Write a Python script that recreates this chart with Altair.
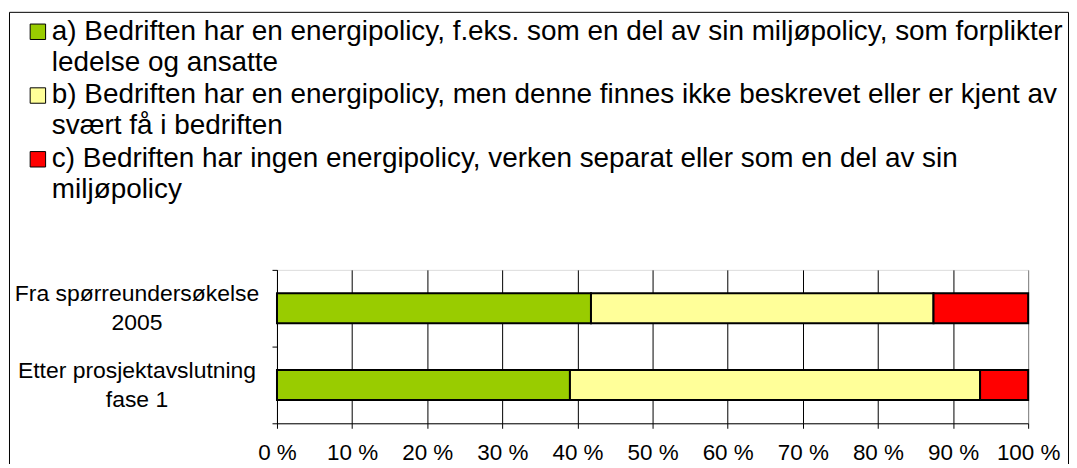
import altair as alt
import pandas as pd

categories = ["Fra spørreundersøkelse\n2005", "Etter prosjektavslutning\nfase 1"]
series_names = [
    "a) Bedriften har en energipolicy, f.eks. som en del av sin miljøpolicy, som forplikter\nledelse og ansatte",
    "b) Bedriften har en energipolicy, men denne finnes ikke beskrevet eller er kjent av\nsvært få i bedriften",
    "c) Bedriften har ingen energipolicy, verken separat eller som en del av sin\nmiljøpolicy",
]
series_a = [41.8, 39.0]
series_b = [45.6, 54.6]
series_c = [12.6, 6.4]
colors = ["#99CC00", "#FFFF99", "#FF0000"]
tick_values = [0, 10, 20, 30, 40, 50, 60, 70, 80, 90, 100]
tick_labels = ["0 %", "10 %", "20 %", "30 %", "40 %", "50 %", "60 %", "70 %", "80 %", "90 %", "100 %"]

FONT = "Liberation Sans"

rows = []
for j, (name, vals) in enumerate(zip(series_names, [series_a, series_b, series_c])):
    for i, cat in enumerate(categories):
        rows.append({"cat": cat, "series": name, "order": j, "value": vals[i]})
df = pd.DataFrame(rows)

color_scale = alt.Scale(domain=series_names, range=colors)
label_expr = "[" + ",".join("'%s'" % t for t in tick_labels) + "][round(datum.value/10)]"

bars = alt.Chart(df).mark_bar(height=30, stroke="black", strokeWidth=2).encode(
    x=alt.X("value:Q", stack="zero",
            scale=alt.Scale(domain=[0, 100], nice=False),
            axis=alt.Axis(values=tick_values, labelExpr=label_expr, title=None,
                          grid=True,
                          gridColor={"condition": {"test": "datum.value === 100", "value": "#808080"}, "value": "#000000"},
                          gridWidth=1, tickColor="black", tickSize=5, domainColor="black",
                          labelFont=FONT, labelFontSize=22.5, labelColor="black",
                          labelBaseline="middle", labelPadding=24, labelFlush=False,
                          labelOverlap=False)),
    y=alt.Y("cat:N", sort=categories,
            scale=alt.Scale(paddingInner=0, paddingOuter=0),
            axis=alt.Axis(title=None, labelExpr="split(datum.label, '\\n')",
                          labelAlign="center", labelPadding=136, labelFont=FONT,
                          labelFontSize=23, labelLineHeight=29, labelBaseline="middle",
                          labelOffset=-14.5,
                          labelColor="black", labelLimit=500,
                          tickBand="extent", tickSize=5, tickColor="black",
                          domainColor="black", grid=False)),
    color=alt.Color("series:N", scale=color_scale, legend=None),
    order=alt.Order("order:Q"),
)

layers = [bars]

# legend (symbols + wrapped texts)
for j, name in enumerate(series_names):
    y0 = -239 + 64 * j
    sq = alt.Chart(pd.DataFrame({"series": [name]})).mark_square(
        size=240, stroke="black", strokeWidth=1, opacity=1
    ).encode(
        x=alt.value(-240), y=alt.value(y0),
        color=alt.Color("series:N", scale=color_scale, legend=None),
    )
    layers.append(sq)
    for k, line in enumerate(name.split("\n")):
        txt = alt.Chart(pd.DataFrame({"t": [line]})).mark_text(
            align="left", baseline="middle", font=FONT, fontSize=28, color="black"
        ).encode(
            text="t:N", x=alt.value(-226), y=alt.value(y0 + 31 * k)
        )
        layers.append(txt)

# outer chart border (left, top, right)
one = pd.DataFrame({"k": [0]})
layers.append(alt.Chart(one).mark_rule(color="black", strokeWidth=1).encode(
    x=alt.value(-268.5), y=alt.value(-258.5), y2=alt.value(260)))
layers.append(alt.Chart(one).mark_rule(color="black", strokeWidth=1).encode(
    x=alt.value(-268.5), x2=alt.value(794.5), y=alt.value(-258.5)))
layers.append(alt.Chart(one).mark_rule(color="black", strokeWidth=1).encode(
    x=alt.value(794.5), y=alt.value(-258.5), y2=alt.value(260)))

chart = alt.layer(*layers).properties(
    width=754, height=154,
    autosize=alt.AutoSizeParams(type="none"),
    padding={"left": 270, "top": 262, "right": 41, "bottom": 40},
    background="white",
).configure_view(stroke="#808080").configure(font=FONT)

chart.save("out.html", embed_options={"renderer": "svg", "actions": False})
